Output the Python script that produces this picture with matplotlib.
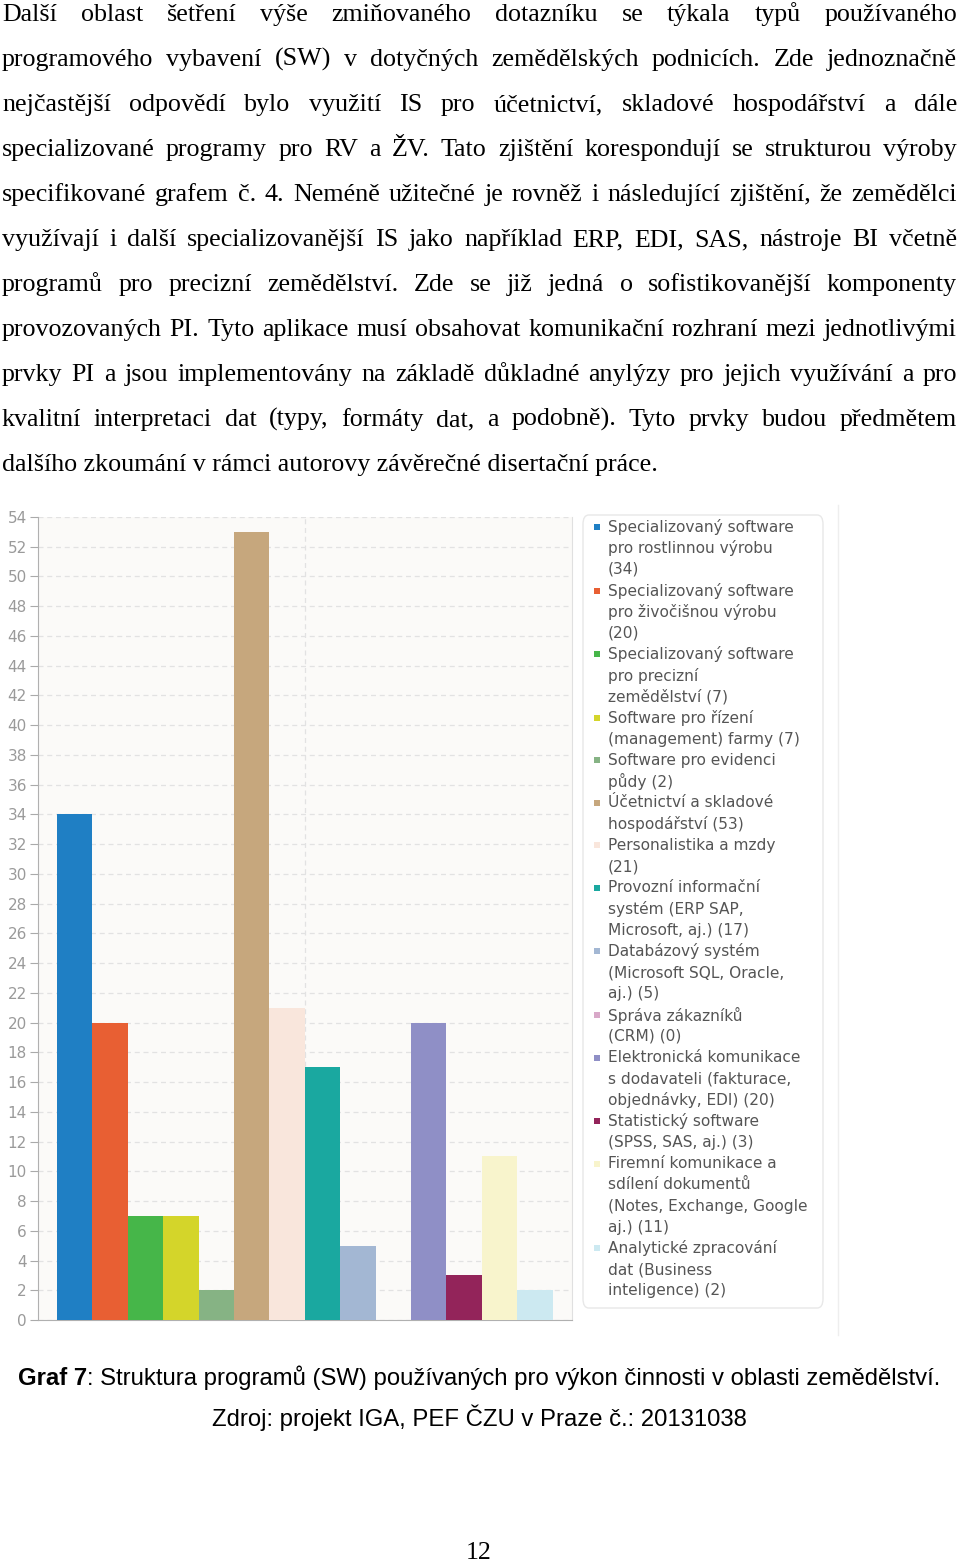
import matplotlib
matplotlib.use("Agg")
import matplotlib.pyplot as plt
from matplotlib.patches import FancyBboxPatch
from matplotlib.lines import Line2D

W, H = 960, 1561

# chart data
names = [
    "Specializovaný software\npro rostlinnou výrobu\n",
    "Specializovaný software\npro živočišnou výrobu\n",
    "Specializovaný software\npro precizní\nzemědělství ",
    "Software pro řízení\n(management) farmy ",
    "Software pro evidenci\npůdy ",
    "Účetnictví a skladové\nhospodářství ",
    "Personalistika a mzdy\n",
    "Provozní informační\nsystém (ERP SAP,\nMicrosoft, aj.) ",
    "Databázový systém\n(Microsoft SQL, Oracle,\naj.) ",
    "Správa zákazníků\n(CRM) ",
    "Elektronická komunikace\ns dodavateli (fakturace,\nobjednávky, EDI) ",
    "Statistický software\n(SPSS, SAS, aj.) ",
    "Firemní komunikace a\nsdílení dokumentů\n(Notes, Exchange, Google\naj.) ",
    "Analytické zpracování\ndat (Business\ninteligence) ",
]
values = [34, 20, 7, 7, 2, 53, 21, 17, 5, 0, 20, 3, 11, 2]
colors = ["#1f7fc4", "#e85f33", "#46b649", "#d4d52a", "#86b384", "#c6a77d",
          "#f9e6dc", "#1aa8a0", "#a3b7d3", "#d8a8c8", "#8f8fc6", "#93245a",
          "#f8f4cc", "#cce9f1"]
yticks = list(range(0, 55, 2))

paragraph = [
    "Další oblast šetření výše zmiňovaného dotazníku se týkala typů používaného",
    "programového vybavení (SW) v dotyčných zemědělských podnicích. Zde jednoznačně",
    "nejčastější odpovědí bylo využití IS pro účetnictví, skladové hospodářství a dále",
    "specializované programy pro RV a ŽV. Tato zjištění korespondují se strukturou výroby",
    "specifikované grafem č. 4. Neméně užitečné je rovněž i následující zjištění, že zemědělci",
    "využívají i další specializovanější IS jako například ERP, EDI, SAS, nástroje BI včetně",
    "programů pro precizní zemědělství. Zde se již jedná o sofistikovanější komponenty",
    "provozovaných PI. Tyto aplikace musí obsahovat komunikační rozhraní mezi jednotlivými",
    "prvky PI a jsou implementovány na základě důkladné anylýzy pro jejich využívání a pro",
    "kvalitní interpretaci dat (typy, formáty dat, a podobně). Tyto prvky budou předmětem",
    "dalšího zkoumání v rámci autorovy závěrečné disertační práce.",
]

fig = plt.figure(figsize=(W / 100, H / 100), dpi=100)
fig.patch.set_facecolor("white")
renderer = fig.canvas.get_renderer()


def px(x, y):
    return x / W, 1 - y / H


def width_of(t):
    return t.get_window_extent(renderer).width


# justified paragraph
body = dict(family="Liberation Serif", fontsize=18.75, color="black", va="baseline")
left, right = 2, 957
for i, line in enumerate(paragraph):
    yb = 21 + 45 * i
    words = line.split()
    if i == len(paragraph) - 1:
        fig.text(*px(left, yb), line, **body)
        continue
    texts = [fig.text(*px(left, yb), w, **body) for w in words]
    widths = [width_of(t) for t in texts]
    gap = (right - left - sum(widths)) / (len(words) - 1)
    x = left
    for t, w in zip(texts, widths):
        t.set_position(px(x, yb))
        x += w + gap

# bar chart
ax = fig.add_axes([38 / W, 1 - 1320 / H, (572 - 38) / W, (1320 - 517) / H])
ax.set_facecolor("#fbfaf8")
ax.bar(range(len(values)), values, width=1.0, color=colors, zorder=3)
ax.set_xlim(-1.04, 14.05)
ax.set_ylim(0, 54)
ax.set_yticks(yticks)
ax.set_xticks([])
ax.grid(axis="y", color="#e2e2e2", linestyle=(0, (4, 3)), linewidth=0.9, zorder=1)
ax.axvline(6.5, color="#e2e2e2", linestyle=(0, (4, 3)), linewidth=0.9, zorder=1)
ax.tick_params(axis="y", length=6, width=0.8, color="#aaaaaa", labelcolor="#9a9a9a",
               labelsize=11, pad=2)
for lbl in ax.get_yticklabels():
    lbl.set_family("DejaVu Sans")
ax.spines["top"].set_visible(False)
ax.spines["left"].set_color("#b0b0b0")
ax.spines["bottom"].set_color("#b0b0b0")
ax.spines["right"].set_color("#e0e0e0")

# legend box
box = FancyBboxPatch(px(583, 1308), 240 / W, (1308 - 515) / H,
                     boxstyle="round,pad=0,rounding_size=0.006",
                     transform=fig.transFigure, facecolor="white",
                     edgecolor="#e8e8e8", linewidth=1.0)
fig.patches.append(box)
fig.lines.append(Line2D([838 / W, 838 / W], [1 - 505 / H, 1 - 1335 / H],
                        transform=fig.transFigure, color="#eeeeee", linewidth=1))

k = 0
for name, v, c in zip(names, values, colors):
    label = name + f"({v})"
    lines = label.split("\n")
    y0 = 527 + 21.22 * k
    fig.patches.append(FancyBboxPatch(px(594, y0 + 3), 6 / W, 6 / H,
                                      boxstyle="square,pad=0",
                                      transform=fig.transFigure,
                                      facecolor=c, edgecolor="none"))
    for j, ln in enumerate(lines):
        fig.text(*px(608, y0 + 21.22 * j), ln, family="DejaVu Sans",
                 fontsize=11.1, color="#555555", va="center")
    k += len(lines)

# caption
cap = dict(family="Liberation Sans", fontsize=17.2, color="black", va="baseline")
t1 = fig.text(*px(18, 1385), "Graf 7", fontweight="bold", **cap)
w1 = width_of(t1)
fig.text(*px(18 + w1, 1385),
         ": Struktura programů (SW) používaných pro výkon činnosti v oblasti zemědělství.",
         **cap)
fig.text(*px(479, 1426), "Zdroj: projekt IGA, PEF ČZU v Praze č.: 20131038",
         ha="center", **cap)

fig.text(*px(479, 1559), "12", family="Liberation Serif", fontsize=18.75,
         ha="center", va="baseline")

fig.savefig("out.png", dpi=100, facecolor="white")
